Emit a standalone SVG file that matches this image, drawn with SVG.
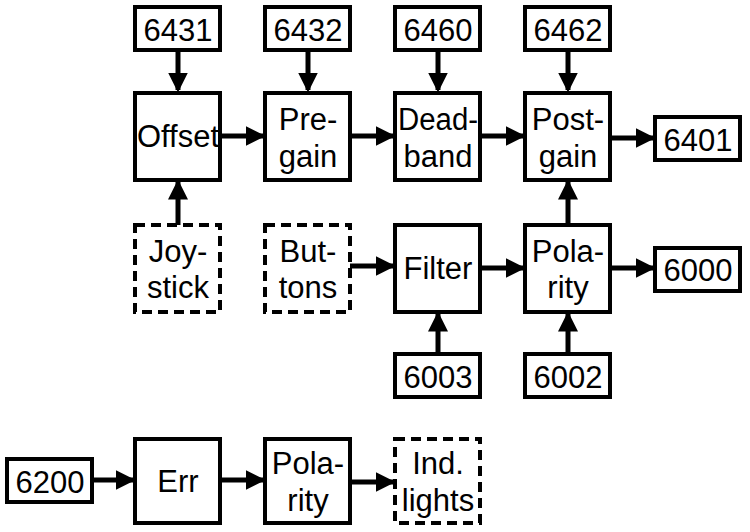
<svg xmlns="http://www.w3.org/2000/svg" width="750" height="532" viewBox="0 0 750 532">
<style>
.b{fill:#fff;stroke:#000;stroke-width:4}
.d{fill:#fff;stroke:#000;stroke-width:4;stroke-dasharray:10,6}
.t{font-family:"Liberation Sans",Arial,sans-serif;font-size:31px;text-anchor:middle;fill:#000}
.c line{stroke:#000;stroke-width:5;marker-end:url(#a)}
</style>
<defs><marker id="a" markerWidth="4" markerHeight="4" refX="3.5" refY="2" orient="auto" markerUnits="strokeWidth"><path d="M0,0L4,2L0,4z"/></marker></defs>
<g class="c">
<line x1="178" y1="50" x2="178" y2="90"/><line x1="308" y1="50" x2="308" y2="90"/><line x1="438" y1="50" x2="438" y2="90"/><line x1="568" y1="50" x2="568" y2="90"/>
<line x1="220" y1="136" x2="263" y2="136"/><line x1="350" y1="136" x2="393" y2="136"/><line x1="480" y1="136" x2="523" y2="136"/><line x1="610" y1="138" x2="653" y2="138"/>
<line x1="178" y1="225" x2="178" y2="182"/><line x1="568" y1="225" x2="568" y2="182"/>
<line x1="350" y1="266" x2="393" y2="266"/><line x1="480" y1="268" x2="523" y2="268"/><line x1="610" y1="268" x2="653" y2="268"/>
<line x1="438" y1="352" x2="438" y2="314"/><line x1="568" y1="352" x2="568" y2="314"/>
<line x1="92" y1="480" x2="133" y2="480"/><line x1="220" y1="480" x2="263" y2="480"/><line x1="350" y1="482" x2="393" y2="482"/>
</g>
<g id="n6431"><rect class="b" x="135" y="7" width="85" height="43"/><text class="t" x="178" y="41">6431</text></g>
<g id="n6432"><rect class="b" x="265" y="7" width="85" height="43"/><text class="t" x="308" y="41">6432</text></g>
<g id="n6460"><rect class="b" x="395" y="7" width="85" height="43"/><text class="t" x="438" y="41">6460</text></g>
<g id="n6462"><rect class="b" x="525" y="7" width="85" height="43"/><text class="t" x="568" y="41">6462</text></g>
<g id="offset"><rect class="b" x="135" y="93" width="85" height="87"/><text class="t" x="178" y="147" textLength="82" lengthAdjust="spacingAndGlyphs">Offset</text></g>
<g id="pregain"><rect class="b" x="265" y="93" width="85" height="87"/><text class="t" x="308" y="130">Pre-</text><text class="t" x="308" y="167">gain</text></g>
<g id="deadband"><rect class="b" x="395" y="93" width="85" height="87"/><text class="t" x="438" y="130" textLength="80" lengthAdjust="spacingAndGlyphs">Dead-</text><text class="t" x="438" y="167">band</text></g>
<g id="postgain"><rect class="b" x="525" y="93" width="85" height="87"/><text class="t" x="568" y="130">Post-</text><text class="t" x="568" y="167">gain</text></g>
<g id="n6401"><rect class="b" x="655" y="117" width="85" height="43"/><text class="t" x="698" y="151">6401</text></g>
<g id="joystick"><rect class="d" x="135" y="225" width="85" height="87"/><text class="t" x="178" y="262">Joy-</text><text class="t" x="178" y="298">stick</text></g>
<g id="buttons"><rect class="d" x="265" y="225" width="85" height="87"/><text class="t" x="308" y="262">But-</text><text class="t" x="308" y="298">tons</text></g>
<g id="filter"><rect class="b" x="395" y="225" width="85" height="87"/><text class="t" x="438" y="279">Filter</text></g>
<g id="polarity1"><rect class="b" x="525" y="225" width="85" height="87"/><text class="t" x="568" y="262">Pola-</text><text class="t" x="568" y="298">rity</text></g>
<g id="n6000"><rect class="b" x="655" y="248" width="85" height="43"/><text class="t" x="698" y="281">6000</text></g>
<g id="n6003"><rect class="b" x="395" y="354" width="85" height="43"/><text class="t" x="438" y="388">6003</text></g>
<g id="n6002"><rect class="b" x="525" y="354" width="85" height="43"/><text class="t" x="568" y="388">6002</text></g>
<g id="n6200"><rect class="b" x="7" y="459" width="85" height="43"/><text class="t" x="50" y="493">6200</text></g>
<g id="err"><rect class="b" x="135" y="439" width="85" height="84"/><text class="t" x="178" y="492">Err</text></g>
<g id="polarity2"><rect class="b" x="265" y="439" width="85" height="84"/><text class="t" x="308" y="474">Pola-</text><text class="t" x="308" y="511">rity</text></g>
<g id="indlights"><rect class="d" x="395" y="439" width="85" height="84"/><text class="t" x="438" y="474">Ind.</text><text class="t" x="438" y="511">lights</text></g>
</svg>
